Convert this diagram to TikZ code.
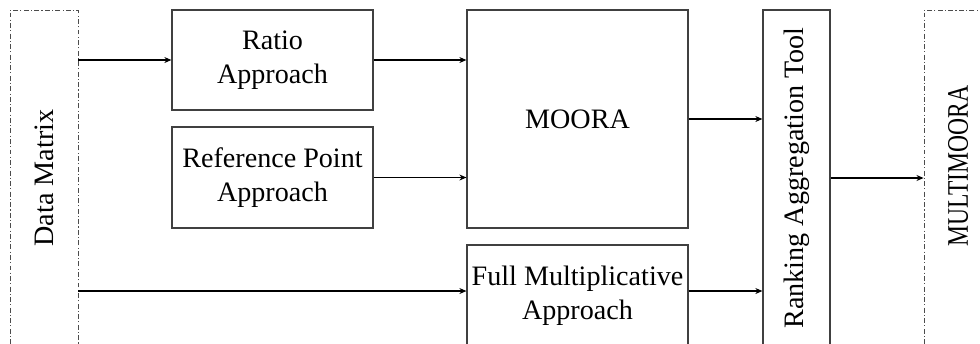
\documentclass[tikz,border=0pt]{standalone}
\usepackage{fontspec}
\setmainfont{Liberation Serif}
\usepackage{graphicx}
\usetikzlibrary{arrows.meta}

\begin{document}
\begin{tikzpicture}[
    x=0.02cm, y=0.02cm,
    font=\fontsize{16}{19.3}\selectfont,
    box/.style={draw=black!75, line width=0.7pt, align=center, inner sep=0pt},
    frame/.style={draw=black!70, line width=0.55pt, dash pattern=on 2.8pt off 1.3pt on 0.6pt off 1.3pt, inner sep=0pt},
    arr/.style={-{Stealth[length=4pt, width=3.4pt]}, line width=0.6pt}
]

    % --- Page ---
    \clip (0,0) rectangle (980,343);

    % --- Input and output frames ---
    \node[frame, minimum width=1.36cm, minimum height=6.72cm] (data) at (44,165) {\rotatebox{90}{Data Matrix}};
    \node[frame, minimum width=1.36cm, minimum height=6.72cm] (multi) at (958,165) {};
    \node[font=\fontsize{17}{20}\selectfont] (multitext) at (958,177) {\rotatebox{90}{\scalebox{0.79}[1]{MULTIMOORA}}};

    % --- Methods ---
    \node[box, minimum width=4.02cm, minimum height=2.0cm] (ratio) at (272.5,283) {Ratio\\Approach};
    \node[box, minimum width=4.02cm, minimum height=2.02cm] (refpoint) at (272.5,165.5) {Reference Point\\Approach};
    \node[box, minimum width=4.42cm, minimum height=4.36cm] (moora) at (577.5,224) {MOORA};
    \node[box, minimum width=4.42cm, minimum height=2.04cm] (fullmult) at (577.5,47) {Full Multiplicative\\Approach};
    \node[box, minimum width=1.34cm, minimum height=6.72cm] (ranking) at (796.5,165) {\rotatebox{90}{Ranking Aggregation Tool}};

    % --- Connectors ---
    \coordinate (fullin) at ([yshift=0.1cm]fullmult.west);
    \coordinate (fullout) at ([yshift=0.1cm]fullmult.east);
    \draw[arr] (data.east |- ratio.west) -- (ratio.west);
    \draw[arr] (data.east |- fullin) -- (fullin);
    \draw[arr] (ratio.east) -- (moora.west |- ratio.east);
    \draw[arr] (refpoint.east) -- (moora.west |- refpoint.east);
    \draw[arr] (moora.east) -- (ranking.west |- moora.east);
    \draw[arr] (fullout) -- (ranking.west |- fullout);
    \draw[arr] (ranking.east) -- (multi.west);

\end{tikzpicture}
\end{document}
